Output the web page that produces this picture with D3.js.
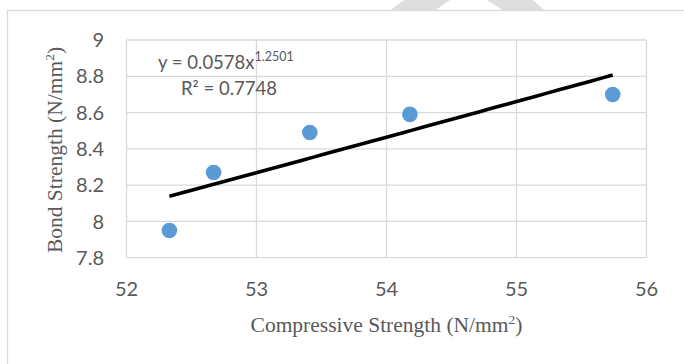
<!DOCTYPE html>
<html>
<head>
<meta charset="utf-8">
<script src="https://cdn.jsdelivr.net/npm/d3@7"></script>
<style>
  body { margin: 0; background: #fff; }
  .tick-label { font-family: Lato, "Open Sans", sans-serif; font-size: 20px; fill: #595959; }
  .axis-title { font-family: "Liberation Serif", "Times New Roman", serif; font-size: 21.5px; fill: #595959; }
</style>
</head>
<body>
<div id="chart"></div>
<script>
// data
var compressive = [52.33, 52.67, 53.41, 54.18, 55.74];
var bond = [7.95, 8.27, 8.49, 8.59, 8.70];
var xTicks = [52, 53, 54, 55, 56];
var yTicks = [7.8, 8, 8.2, 8.4, 8.6, 8.8, 9];
// power trendline as printed on the chart: y = a * x^b
var trendCoef = [0.0578, 1.2501];

var width = 684, height = 364;

var svg = d3.select("#chart")
  .append("svg")
    .attr("width", width)
    .attr("height", height);

svg.append("rect")
  .attr("width", width).attr("height", height)
  .attr("fill", "#fff");

// faint watermark at the top
svg.append("path")
  .attr("d", "M390,10.5L404,0L450,0L435,10.5Z M487,0L533,0L545,10.5L503,10.5Z")
  .attr("fill", "#dedede");

// chart area border (runs off the right and bottom)
svg.append("rect")
  .attr("x", 7.5).attr("y", 10.5)
  .attr("width", 720).attr("height", 400)
  .attr("fill", "none")
  .attr("stroke", "#d9d9d9")
  .attr("stroke-width", 1.3);

var x = d3.scaleLinear()
  .domain([52, 56])
  .range([126.5, 646.5]);

var y = d3.scaleLinear()
  .domain([7.8, 9])
  .range([257.7, 40]);

// grid
svg.append("g")
  .selectAll("line")
  .data(yTicks)
  .enter()
  .append("line")
    .attr("x1", x(52)).attr("x2", x(56))
    .attr("y1", function(d) { return y(d); })
    .attr("y2", function(d) { return y(d); })
    .attr("stroke", "#d9d9d9")
    .attr("stroke-width", 1.3);

svg.append("g")
  .selectAll("line")
  .data(xTicks)
  .enter()
  .append("line")
    .attr("y1", y(7.8)).attr("y2", y(9))
    .attr("x1", function(d) { return x(d); })
    .attr("x2", function(d) { return x(d); })
    .attr("stroke", "#d9d9d9")
    .attr("stroke-width", 1.3);

// tick labels
svg.append("g")
  .selectAll("text")
  .data(yTicks)
  .enter()
  .append("text")
    .attr("class", "tick-label")
    .attr("x", 104)
    .attr("y", function(d) { return y(d); })
    .attr("dy", "0.36em")
    .attr("text-anchor", "end")
    .text(function(d) { return d3.format("")(d); });

svg.append("g")
  .selectAll("text")
  .data(xTicks)
  .enter()
  .append("text")
    .attr("class", "tick-label")
    .attr("x", function(d) { return x(d); })
    .attr("y", 296)
    .attr("text-anchor", "middle")
    .text(function(d) { return d; });

// trendline
var xs = d3.range(0, 41).map(function(i) {
  var lo = d3.min(compressive), hi = d3.max(compressive);
  return lo + (hi - lo) * i / 40;
});
var line = d3.line()
  .x(function(d) { return x(d); })
  .y(function(d) { return y(trendCoef[0] * Math.pow(d, trendCoef[1])); });

svg.append("path")
  .datum(xs)
  .attr("d", line)
  .attr("fill", "none")
  .attr("stroke", "#000")
  .attr("stroke-width", 3.6);

// points
svg.append("g")
  .selectAll("circle")
  .data(compressive)
  .enter()
  .append("circle")
    .attr("cx", function(d) { return x(d); })
    .attr("cy", function(d, i) { return y(bond[i]); })
    .attr("r", 7.8)
    .attr("fill", "#5b9bd5");

// trendline label
var eq = svg.append("text")
  .attr("class", "tick-label")
  .attr("x", 158)
  .attr("y", 69)
  .style("font-size", "18.5px")
  .text("y = " + trendCoef[0] + "x");
eq.append("tspan")
  .attr("dy", -8)
  .style("font-size", "12.5px")
  .text(trendCoef[1]);

svg.append("text")
  .attr("class", "tick-label")
  .attr("x", 181)
  .attr("y", 95)
  .style("font-size", "18.5px")
  .text("R² = 0.7748");

// axis titles
var xt = svg.append("text")
  .attr("class", "axis-title")
  .attr("x", 386.5)
  .attr("y", 332)
  .attr("text-anchor", "middle")
  .text("Compressive Strength (N/mm");
xt.append("tspan").attr("dy", -8).style("font-size", "13.5px").text("2");
xt.append("tspan").attr("dy", 8).text(")");

var yt = svg.append("text")
  .attr("class", "axis-title")
  .attr("transform", "translate(61.5,150)rotate(-90)")
  .attr("text-anchor", "middle")
  .text("Bond Strength (N/mm");
yt.append("tspan").attr("dy", -8).style("font-size", "13.5px").text("2");
yt.append("tspan").attr("dy", 8).text(")");
</script>
</body>
</html>
